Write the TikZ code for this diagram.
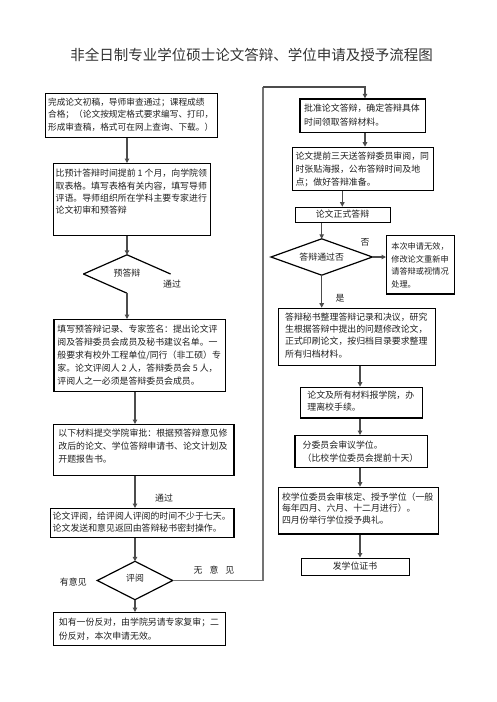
\documentclass[tikz,border=0pt]{standalone}
\usepackage{fontspec}
\newfontfamily\cjk{Noto Sans CJK SC}
\usetikzlibrary{arrows.meta}
\begin{document}
\begin{tikzpicture}[x=1pt,y=-1pt,
  box/.style={draw=black, line width=1.3pt, inner sep=0pt, anchor=north west},
  dia/.style={draw=none, inner sep=0pt},
  dline/.style={draw=black, line width=1.2pt, line join=miter},
  txt/.style={font=\cjk\fontsize{8.9}{#1}\selectfont, align=left, inner sep=0pt, text=black!88},
  txt/.default=12.8,
  lbl/.style={font=\cjk\fontsize{8.9}{10}\selectfont, inner sep=0pt, text=black!88},
  conn/.style={draw=black!70, line width=1.2pt},
  trunk/.style={draw=black!55, line width=1.5pt},
  arr/.style={conn, -{Triangle[length=4.5pt,width=4.5pt]}},
]
\useasboundingbox (0,0) rectangle (496,702);

% title
\node[font=\cjk\fontsize{14.5}{16}\selectfont, text=black!80, inner sep=0pt] (title) at (251.7,55) {非全日制专业学位硕士论文答辩、学位申请及授予流程图};

% x positions of connectors
\coordinate (xA) at (365,0);
\coordinate (xB) at (342.3,0);
\coordinate (xD) at (360,0);
\coordinate (c1) at (263,87);

% left column
\node[box, minimum width=172pt, minimum height=44.2pt] (b1) at (44.7,92.6) {};
\node[txt, font=\cjk\fontsize{8.7}{12.8}\selectfont] (t1) at (130.7,114.7) {完成论文初稿，导师审查通过；课程成绩\\合格；（论文按规定格式要求编写、打印，\\形成审查稿，格式可在网上查询、下载。）};

\node[box, minimum width=157.3pt, minimum height=72pt] (b2) at (52.7,163) {};
\node[txt={12.3}] (t2) at (131.3,192) {比预计答辩时间提前 1 个月，向学院领\\取表格。填写表格有关内容，填写导师\\评语。导师组织所在学科主要专家进行\\论文初审和预答辩};

\node[dia, minimum width=86.7pt, minimum height=38pt] (d1) at (127,274) {};
\draw[dline] (d1.west) -- (d1.north) -- (d1.east);
\draw[dline] (d1.west) -- (d1.south);
\node[lbl] (td1) at (127,273) {预答辩};
\node[lbl] (pass1) at (172,284) {通过};

\node[box, minimum width=171.7pt, minimum height=72pt] (b3) at (53.3,319) {};
\node[txt={13}] (t3) at (139.2,355) {填写预答辩记录、专家签名：提出论文评\\阅及答辩委员会成员及秘书建议名单。一\\般要求有校外工程单位/同行（非工硕）专\\家。论文评阅人 2 人，答辩委员会 5 人，\\评阅人之一必须是答辩委员会成员。};

\node[box, minimum width=180.6pt, minimum height=51pt] (b4) at (52.7,424) {};
\node[txt={13.2}] (t4) at (143,446) {以下材料提交学院审批：根据预答辩意见修\\改后的论文、学位答辩申请书、论文计划及\\开题报告书。};

\node[box, minimum width=183.3pt, minimum height=29pt] (b5) at (50,508) {};
\node[txt={12.2}] (t5) at (141.7,522) {论文评阅，给评阅人评阅的时间不少于七天。\\论文发送和意见返回由答辩秘书密封操作。};
\node[lbl] (pass2) at (164,498) {通过};

\node[dia, minimum width=75pt, minimum height=38pt] (d2) at (135,580.5) {};
\draw[dline] (d2.north) -- (d2.east) -- (d2.south) -- (d2.west) -- cycle;
\node[lbl] (td2) at (135,578.5) {评阅};
\node[lbl] (opin) at (73.3,581.7) {有意见};
\node[lbl] (noop) at (214,570) {无\hspace{7pt}意\hspace{7pt}见};

\node[box, minimum width=172.3pt, minimum height=33pt] (b6) at (52.7,612) {};
\node[txt={13.3}] (t6) at (139,629.3) {如有一份反对，由学院另请专家复审；二\\份反对，本次申请无效。};

% right column
\node[box, minimum width=125.7pt, minimum height=33.4pt] (b7) at (299.3,98.3) {};
\node[txt={13.4}] (t7) at (362,115) {批准论文答辩，确定答辩具体\\时间领取答辩材料。};

\node[box, minimum width=141.3pt, minimum height=43.3pt] (b8) at (291.7,146.7) {};
\node[txt={13.3}] (t8) at (362.3,169.3) {论文提前三天送答辩委员审阅，同\\时张贴海报，公布答辩时间及地\\点；做好答辩准备。};

\node[box, minimum width=95pt, minimum height=15pt] (b9) at (295,206.7) {};
\node[txt] (t9) at (342.5,214.2) {论文正式答辩};

\node[dia, minimum width=101pt, minimum height=36pt] (d3) at (321.7,257) {};
\draw[dline] (d3.north) -- (d3.east) -- (d3.south) -- (d3.west) -- cycle;
\node[lbl] (td3) at (321.7,257) {答辩通过否};
\node[lbl] (no) at (365,242) {否};
\node[lbl] (yes) at (340,298) {是};

\node[box, minimum width=68pt, minimum height=58.3pt] (b10) at (386,235) {};
\node[txt, font=\cjk\fontsize{8.2}{12.4}\selectfont] (t10) at (420,265.3) {本次申请无效，\\修改论文重新申\\请答辩或视情况\\处理。};

\node[box, minimum width=157.3pt, minimum height=57.3pt] (b11) at (277.7,307.7) {};
\node[txt={12.4}] (t11) at (356.3,335.3) {答辩秘书整理答辩记录和决议，研究\\生根据答辩中提出的问题修改论文，\\正式印刷论文，按归档目录要求整理\\所有归档材料。};

\node[box, minimum width=121.7pt, minimum height=30.6pt] (b12) at (300,386.7) {};
\node[txt={11.7}] (t12) at (360.8,401) {论文及所有材料报学院，办\\理离校手续。};

\node[box, minimum width=132.4pt, minimum height=31.7pt] (b13) at (294.3,435) {};
\node[txt={13.3}] (t13) at (360.5,451.7) {分委员会审议学位。\\（比校学位委员会提前十天）};

\node[box, minimum width=160pt, minimum height=46.6pt] (b14) at (277.7,486.7) {};
\node[txt={11.7}] (t14) at (357.7,508.3) {校学位委员会审核定、授予学位（一般\\每年四月、六月、十二月进行）。\\四月份举行学位授予典礼。};

\node[box, minimum width=108pt, minimum height=17pt] (b15) at (301,557.5) {};
\node[txt] (t15) at (355,566) {发学位证书};

% connectors left
\draw[arr] (b1.south -| d1.north) -- (b2.north -| d1.north);
\draw[arr] (b2.south -| d1.north) -- (d1.north);
\draw[arr] (d1.south) -- (b3.north -| d1.south);
\draw[arr] (b3.south -| d2.north) -- (b4.north -| d2.north);
\draw[arr] (b4.south -| d2.north) -- (b5.north -| d2.north);
\draw[arr] (b5.south -| d2.north) -- (d2.north);
\draw[arr] (d2.south) -- (b6.north -| d2.south);

% trunk
\draw[trunk] (d2.east) -- (d2.east -| c1) -- (c1);
\draw[arr] (c1) -- (c1 -| xA) -- (b7.north -| xA);

% connectors right
\draw[arr] (b7.south -| xA) -- (b8.north -| xA);
\draw[arr] (b8.south -| xB) -- (b9.north -| xB);
\draw[arr] (b9.south -| d3.north) -- (d3.north);
\draw[arr] (d3.east) -- (d3.east -| b10.west);
\draw[arr] (d3.south) -- (b11.north -| d3.south);
\draw[arr] (b11.south -| xD) -- (b12.north -| xD);
\draw[arr] (b12.south -| xD) -- (b13.north -| xD);
\draw[arr] (b13.south -| xD) -- (b14.north -| xD);
\draw[arr] (b14.south -| xD) -- (b15.north -| xD);
\end{tikzpicture}
\end{document}
